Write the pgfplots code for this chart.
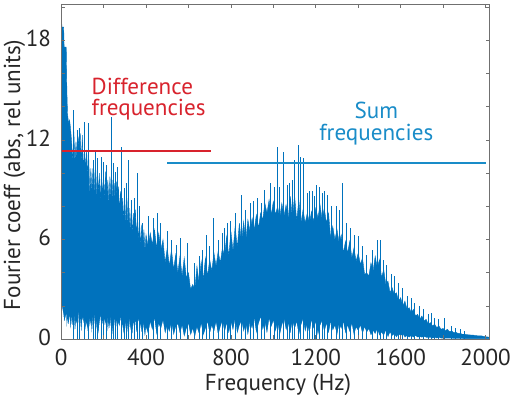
\documentclass[border=0pt]{standalone}
\usepackage{pgfplots}
\pgfplotsset{compat=1.18}
\usepackage{pgfplotstable}
\usepackage{fontspec}
\setmainfont{PT Sans}
\definecolor{mblue}{HTML}{0072BD}
\definecolor{lred}{HTML}{D8232D}
\definecolor{lblue}{HTML}{198CC8}
\definecolor{txt}{HTML}{262626}
\definecolor{axc}{HTML}{707070}

\pgfplotstableread{
f t b
0 19.6 2.6
4 18.8 2.0
12 18.8 1.4
14 17.6 1.0
24 17.6 1.5
27 15.0 0.6
30 13.6 1.2
35 13.0 0.8
40 13.2 1.4
45 12.6 0.5
50 11.8 1.3
55 10.6 0.7
60 12.5 1.5
65 10.6 0.4
70 11.9 1.1
75 10.8 0.9
80 12.2 1.6
85 11.5 0.6
90 12.4 1.2
95 10.6 0.3
100 12.3 1.3
105 10.0 0.9
110 11.6 1.6
115 10.2 0.5
120 11.4 1.0
125 9.9 0.4
130 11.0 1.4
135 8.6 0.7
140 10.3 1.1
145 8.9 0.3
150 10.3 1.3
155 8.7 0.8
160 10.2 1.5
165 8.5 0.5
170 10.2 1.2
175 8.8 0.2
180 10.0 0.9
185 8.3 1.4
190 10.1 0.6
195 8.6 1.1
200 9.9 0.3
205 8.5 1.2
210 10.1 0.8
215 8.4 1.5
220 9.6 0.4
225 8.2 1.0
230 9.8 0.6
235 8.4 1.3
240 9.6 0.2
245 8.1 0.9
250 9.4 1.2
255 8.0 0.5
260 9.5 1.1
265 7.9 0.3
270 9.2 1.0
275 7.7 0.7
280 8.9 1.3
285 7.4 0.4
290 8.5 0.9
295 7.2 0.2
300 8.4 1.1
305 7.0 0.6
310 8.5 1.0
315 6.8 0.3
320 7.9 1.2
325 6.6 0.5
330 7.8 0.9
335 6.3 0.2
340 7.6 1.0
345 6.5 0.6
350 7.8 1.1
355 6.2 0.3
360 7.4 0.8
365 6.0 1.2
370 6.9 0.4
375 5.6 0.9
380 6.9 0.3
385 5.6 1.0
390 6.6 0.6
395 5.3 0.1
400 6.3 0.7
410 5.6 0.3
420 6.4 1.0
430 5.7 0.5
440 6.6 1.2
450 5.5 0.2
460 6.4 0.9
470 5.4 0.6
480 6.0 1.1
490 4.6 0.3
500 5.5 0.8
510 4.4 0.4
520 5.4 1.0
530 4.2 0.2
540 5.1 0.7
550 4.0 0.9
560 5.0 0.3
570 3.8 0.8
580 4.9 0.1
590 3.7 0.6
600 4.0 0.9
610 3.0 0.2
620 3.3 0.6
630 3.0 0.1
640 4.4 0.7
650 3.4 0.3
660 4.7 0.9
670 3.6 0.2
680 4.9 0.6
690 3.8 1.0
700 4.8 0.3
710 4.1 0.8
720 5.2 0.4
730 4.4 1.0
740 5.3 0.2
750 4.6 0.7
760 5.5 1.1
770 5.0 0.4
780 6.2 0.9
790 5.0 0.3
800 6.5 1.0
810 5.3 0.5
820 6.8 1.2
830 5.5 0.3
840 7.0 0.8
850 5.8 1.1
860 7.1 0.4
870 5.9 0.9
880 7.2 0.2
890 6.5 1.0
900 7.3 0.6
910 6.6 1.2
920 7.5 0.3
930 6.7 0.9
940 7.6 1.3
950 7.2 0.5
960 8.2 1.0
970 7.6 0.3
980 8.4 1.2
990 7.5 0.7
1000 8.3 1.1
1010 7.5 0.4
1020 8.0 1.0
1030 7.3 0.2
1040 8.2 0.8
1050 7.4 1.2
1060 8.1 0.5
1070 7.3 0.9
1080 8.6 0.3
1090 7.2 1.1
1100 8.7 0.6
1110 7.1 1.0
1120 8.4 0.2
1130 7.0 0.8
1140 7.8 1.2
1150 7.0 0.4
1160 7.6 0.9
1170 7.0 0.3
1180 7.7 1.1
1190 7.1 0.6
1200 7.9 1.0
1210 7.3 0.2
1220 8.1 0.8
1230 7.2 1.1
1240 7.9 0.4
1250 7.0 0.9
1260 7.6 0.3
1270 6.1 1.0
1280 6.8 0.5
1290 6.0 0.8
1300 6.6 0.2
1310 5.8 0.9
1320 6.3 0.6
1330 5.2 1.0
1340 5.9 0.3
1350 5.2 0.8
1360 5.9 0.4
1370 4.9 0.9
1380 5.5 0.2
1390 4.7 0.7
1400 5.2 0.5
1410 4.5 0.8
1420 4.9 0.3
1430 3.9 0.7
1440 4.0 0.4
1450 3.8 0.6
1460 4.6 0.2
1470 4.1 0.5
1480 5.0 0.3
1490 4.3 0.6
1500 4.8 0.2
1510 3.7 0.4
1520 4.2 0.2
1530 3.3 0.5
1540 3.5 0.1
1550 2.8 0.4
1560 3.1 0.2
1570 2.7 0.3
1580 2.8 0.1
1590 2.3 0.3
1600 2.5 0.2
1610 2.0 0.3
1620 2.3 0.1
1630 1.8 0.2
1640 1.9 0.1
1650 1.6 0.2
1660 1.8 0.1
1670 1.4 0.2
1680 1.5 0.1
1690 1.2 0.15
1700 1.4 0.1
1710 1.1 0.15
1720 1.2 0.1
1730 0.9 0.1
1740 1.0 0.1
1750 0.8 0.05
1760 0.9 0.1
1770 0.7 0.05
1780 0.8 0.1
1790 0.6 0.05
1800 0.65 0.05
1810 0.5 0.05
1820 0.6 0.05
1830 0.45 0.05
1840 0.5 0.05
1850 0.4 0.03
1860 0.42 0.03
1870 0.35 0.03
1880 0.36 0.03
1890 0.3 0.03
1900 0.3 0.02
1920 0.26 0.02
1940 0.25 0.02
1960 0.21 0.02
1980 0.2 0.02
2000 0.15 0.02
2020 0.12 0.02
}\specdata

\pgfplotstableread{
f v
2 20.2
60 13.8
75 12.6
86 12.7
110 13.1
129 13.0
150 10.8
160 11.3
170 10.9
190 11.0
200 10.7
215 10.5
236 13.4
245 10.6
255 10.1
265 10.4
282 11.6
300 9.1
310 9.4
317 10.8
330 8.4
345 8.5
359 10.0
370 8.0
385 7.0
410 7.4
436 7.3
455 7.6
470 7.0
500 6.5
520 6.0
545 5.7
560 6.1
595 5.8
630 4.6
650 5.0
665 5.4
687 6.3
700 5.6
720 7.3
740 6.0
760 6.4
770 6.7
785 7.0
800 7.1
820 7.6
850 8.7
870 7.8
890 8.2
905 8.3
925 8.5
945 8.2
960 9.0
987 9.4
1005 9.2
1021 11.6
1030 9.2
1049 11.3
1065 9.3
1075 9.4
1090 9.6
1100 10.8
1116 11.7
1129 11.0
1144 10.9
1160 8.8
1170 8.9
1185 8.9
1195 8.6
1204 9.3
1218 9.2
1230 8.8
1240 8.9
1255 8.7
1275 8.0
1295 8.0
1310 7.8
1327 9.4
1345 7.0
1365 6.7
1380 6.3
1400 6.2
1420 5.6
1440 5.1
1465 5.4
1490 6.0
1506 6.0
1520 4.8
1535 4.5
1555 3.9
1570 3.8
1589 3.4
1610 3.1
1633 2.6
1650 2.5
1665 2.2
1690 2.0
1705 1.8
1730 1.5
1744 1.6
1760 1.3
1780 1.2
1806 1.3
1840 0.8
1860 0.7
1880 0.6
1900 0.5
}\spikedata

\begin{document}
\begin{tikzpicture}
\begin{axis}[
  scale only axis, width=434.7bp, height=340bp,
  xmin=0, xmax=2020, ymin=0, ymax=20.2,
  axis on top,
  xtick={0,200,...,2000}, xticklabels={0,,400,,800,,1200,,1600,,2000},
  ytick={0,2,...,20}, yticklabels={0,,,6,,,12,,,18,,},
  tick align=inside, major tick length=4bp,
  axis line style={axc, line width=0.8bp},
  every tick/.style={axc, line width=0.8bp},
  tick label style={font=\fontsize{23.5}{27}\selectfont, text=txt},
  /pgf/number format/assume math mode=true,
  xticklabel style={anchor=base, yshift=-27bp},
  yticklabel style={anchor=east, inner sep=0pt, xshift=-10bp, yshift=2bp},
  label style={font=\fontsize{23.5}{27}\selectfont, text=txt},
  xlabel={Frequency (Hz)},
  ylabel={Fourier coeff (abs, rel units)},
  xlabel style={at={(axis description cs:0.506,-0.153)}, anchor=base},
  ylabel style={at={(axis description cs:-0.0955,0.49)}, anchor=base},
]
\addplot[fill=mblue, draw=mblue, line width=0.4bp] table[x=f, y=t]{\specdata} \closedcycle;
\addplot[fill=white, draw=none] table[x=f, y=b]{\specdata} \closedcycle;
\addplot[ycomb, mblue, line width=0.9bp, mark=none] table[x=f, y=v]{\spikedata};
\addplot[lred, line width=1.8bp] coordinates {(0,11.35) (705,11.35)};
\addplot[lblue, line width=1.8bp] coordinates {(500,10.6) (2000,10.6)};
\node[lred, anchor=base west, inner sep=0pt, align=left, font=\fontsize{23.5}{21.5}\selectfont] at (axis cs:143,13.45) {Difference\\frequencies};
\node[lblue, anchor=base, inner sep=0pt, align=center, font=\fontsize{23.5}{21.5}\selectfont] at (axis cs:1485,12.0) {Sum\\frequencies};
\end{axis}
\path (-62bp,-59bp) rectangle (452bp,344bp);
\end{tikzpicture}
\end{document}
